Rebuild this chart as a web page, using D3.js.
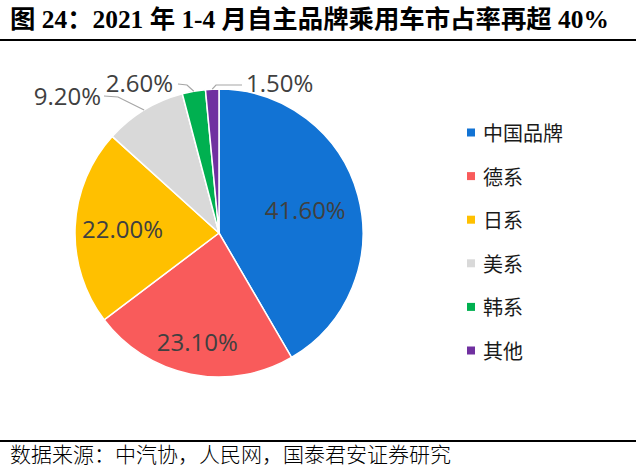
<!DOCTYPE html>
<html>
<head>
<meta charset="utf-8">
<script src="https://cdn.jsdelivr.net/npm/d3@7/dist/d3.min.js"></script>
<style>
	body { margin: 0; background: #fff; }
	svg { display: block; }
</style>
</head>
<body>
<div id="chart"></div>
<script>
// data
var categories = ["中国品牌", "德系", "日系", "美系", "韩系", "其他"];
var shares = [41.6, 23.1, 22.0, 9.2, 2.6, 1.5];
var colors = ["#1273d4", "#f95b5b", "#ffc000", "#d9d9d9", "#00b050", "#7030a0"];

var titleText = "图 24：2021 年 1-4 月自主品牌乘用车市占率再超 40%";
var sourceText = "数据来源：中汽协，人民网，国泰君安证券研究";

// label placement: inside labels by radius factor, outside ones by offset from centre
var labelLayout = [
	{ inside: true, k: 0.62 },
	{ inside: true, k: 0.77 },
	{ inside: true, k: 0.67 },
	{ inside: false, tx: -118, ty: -138, elbow: [-101, -136], end: [-115, -137], anchor: "end" },
	{ inside: false, tx: -46, ty: -151, elbow: [-32, -148], end: [-41, -149], anchor: "end" },
	{ inside: false, tx: 27, ty: -151, elbow: [-3, -148], end: [23, -148], anchor: "start" }
];

var width = 640, height = 468;
var cx = 219, cy = 233, radius = 144;

var svg = d3.select("#chart")
	.append("svg")
	.attr("width", width)
	.attr("height", height);

svg.append("rect")
	.attr("width", width)
	.attr("height", height)
	.attr("fill", "#fff");

// title + rules
svg.append("text")
	.attr("x", 10)
	.attr("y", 28)
	.attr("font-family", "'Liberation Serif', 'Noto Sans CJK SC'")
	.attr("font-weight", "bold")
	.attr("font-size", 25.4)
	.attr("fill", "#000")
	.text(titleText);

svg.append("line")
	.attr("x1", 0).attr("x2", 636)
	.attr("y1", 40).attr("y2", 40)
	.attr("stroke", "#000")
	.attr("stroke-width", 2);

svg.append("line")
	.attr("x1", 0).attr("x2", 636)
	.attr("y1", 441).attr("y2", 441)
	.attr("stroke", "#000")
	.attr("stroke-width", 2);

svg.append("text")
	.attr("x", 10)
	.attr("y", 461.5)
	.attr("font-family", "'Noto Sans CJK SC'")
	.attr("font-weight", 300)
	.attr("font-size", 21)
	.attr("fill", "#000")
	.text(sourceText);

// pie
var data = categories.map(function (c, i) {
	return { name: c, value: shares[i], color: colors[i], layout: labelLayout[i] };
});

var pie = d3.pie()
	.sort(null)
	.value(function (d) { return d.value; });

var arc = d3.arc()
	.innerRadius(0)
	.outerRadius(radius);

var g = svg.append("g")
	.attr("transform", "translate(" + cx + "," + cy + ")");

var arcs = pie(data);

g.selectAll("path.slice")
	.data(arcs)
	.enter().append("path")
	.attr("class", "slice")
	.attr("d", arc)
	.attr("fill", function (d) { return d.data.color; })
	.attr("stroke", "#fff")
	.attr("stroke-width", 1.5);

function fmt(v) {
	return v.toFixed(2) + "%";
}

function midPoint(d, r) {
	var a = (d.startAngle + d.endAngle) / 2;
	return [Math.sin(a) * r, -Math.cos(a) * r];
}

// inside labels
g.selectAll("text.inner")
	.data(arcs.filter(function (d) { return d.data.layout.inside; }))
	.enter().append("text")
	.attr("class", "inner")
	.attr("x", function (d) { return midPoint(d, radius * d.data.layout.k)[0]; })
	.attr("y", function (d) { return midPoint(d, radius * d.data.layout.k)[1]; })
	.attr("text-anchor", "middle")
	.attr("dominant-baseline", "central")
	.attr("font-family", "'Open Sans'")
	.attr("font-size", 24)
	.attr("fill", "#404040")
	.text(function (d) { return fmt(d.data.value); });

// outside labels with leader lines
var outer = arcs.filter(function (d) { return !d.data.layout.inside; });

g.selectAll("polyline.leader")
	.data(outer)
	.enter().append("polyline")
	.attr("class", "leader")
	.attr("points", function (d) {
		var p0 = midPoint(d, radius);
		var l = d.data.layout;
		return [p0, l.elbow, l.end].map(function (p) { return p.join(","); }).join(" ");
	})
	.attr("fill", "none")
	.attr("stroke", "#a6a6a6")
	.attr("stroke-width", 1.2);

g.selectAll("text.outer")
	.data(outer)
	.enter().append("text")
	.attr("class", "outer")
	.attr("x", function (d) { return d.data.layout.tx; })
	.attr("y", function (d) { return d.data.layout.ty; })
	.attr("text-anchor", function (d) { return d.data.layout.anchor; })
	.attr("dominant-baseline", "central")
	.attr("font-family", "'Open Sans'")
	.attr("font-size", 24)
	.attr("fill", "#404040")
	.text(function (d) { return fmt(d.data.value); });

// legend
var legendY = d3.scalePoint()
	.domain(categories)
	.range([132.5, 350.5]);

var legend = svg.append("g");

var item = legend.selectAll("g")
	.data(data)
	.enter().append("g")
	.attr("transform", function (d) { return "translate(467," + legendY(d.name) + ")"; });

item.append("rect")
	.attr("x", 0)
	.attr("y", -4)
	.attr("width", 8)
	.attr("height", 8)
	.attr("fill", function (d) { return d.color; });

item.append("text")
	.attr("x", 16)
	.attr("y", 0)
	.attr("dominant-baseline", "central")
	.attr("font-family", "'Noto Sans CJK SC'")
	.attr("font-size", 20)
	.attr("fill", "#1a1a1a")
	.text(function (d) { return d.name; });
</script>
</body>
</html>
